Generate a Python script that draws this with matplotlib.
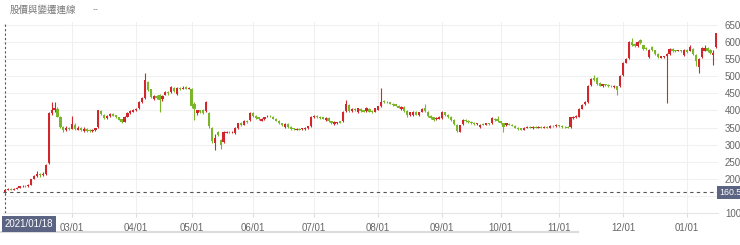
import pandas as pd
import matplotlib.pyplot as plt
from matplotlib.lines import Line2D

# trading calendar: 2021/01/18 - 2022/01/17, Taiwan market holidays removed
start_date = '2021-01-18'
end_date = '2022-01-17'
holidays = ['2021-02-08', '2021-02-09', '2021-02-10', '2021-02-11', '2021-02-12',
            '2021-02-15', '2021-02-16', '2021-03-01', '2021-04-02', '2021-04-05',
            '2021-04-30', '2021-06-14', '2021-09-20', '2021-09-21', '2021-10-11',
            '2021-12-31']

# daily OHLC
opens = [
    160.5, 168, 171, 168, 171, 173, 178, 180, 178, 182, 200, 207, 214, 210, 214,  # Jan-Feb
    246, 392, 400, 404, 382, 352, 343, 350,
    347, 358, 344, 350, 340, 346, 344, 340, 343, 352, 398, 388, 377, 383, 390, 386,  # Mar
    380, 374, 366, 382, 392, 396,
    400, 406, 425, 436, 482, 462, 434, 441, 445, 432, 446, 455, 455, 465, 448, 465,  # Apr
    464, 468, 464,
    462, 420, 392, 400, 400, 398, 392, 350, 305, 337, 313, 308, 335, 338, 336, 334,  # May
    349, 362, 358, 370, 372,
    392, 385, 380, 370, 374, 383, 385, 382, 376, 370, 362, 352, 360, 352, 348, 344,  # Jun
    347, 345, 346, 348, 354,
    380, 384, 382, 380, 372, 378, 368, 360, 362, 368, 368, 398, 416, 398, 405, 395,  # Jul
    404, 400, 398, 404, 398, 396,
    402, 412, 428, 426, 424, 420, 418, 414, 404, 410, 398, 386, 386, 395, 386, 396,  # Aug
    408, 396, 385, 380, 374, 376,
    378, 394, 388, 382, 372, 358, 338, 360, 372, 370, 366, 364, 360, 352, 360, 358,  # Sep
    362, 362, 376, 375,
    368, 362, 356, 360, 358, 354, 350, 348, 344, 350, 352, 349, 352, 350, 351, 350,  # Oct
    352, 350, 355, 353,
    356, 354, 352, 352, 352, 378, 380, 382, 405, 418, 425, 474, 495, 495, 480, 470,  # Nov
    476, 474, 472, 468, 470, 470,
    503, 540, 553, 600, 595, 588, 606, 590, 582, 555, 586, 576, 566, 554, 555, 558,  # Dec
    565, 580, 576, 575, 576, 562,
    578, 575, 580, 562, 527, 555, 575, 582, 578, 562, 585,  # Jan 2022
]
closes = [
    168, 171, 168, 171, 173, 178, 180, 178, 182, 199, 207, 213, 210, 214, 240,
    392, 402, 406, 382, 352, 343, 350, 345,
    360, 346, 350, 342, 346, 340, 341, 344, 348, 400, 390, 377, 385, 390, 385, 380,
    373, 366, 381, 392, 398, 401,
    405, 425, 435, 489, 460, 440, 441, 436, 430, 441, 455, 450, 467, 458, 465, 463,
    466, 464, 466,
    412, 405, 400, 395, 393, 425, 355, 310, 320, 328, 300, 337, 338, 336, 338, 349,
    362, 358, 370, 365, 392,
    384, 378, 374, 376, 380, 385, 383, 376, 370, 363, 356, 360, 352, 345, 345, 347,
    344, 348, 349, 353, 381,
    384, 380, 378, 376, 378, 368, 362, 366, 365, 364, 395, 418, 398, 405, 400, 406,
    398, 396, 408, 396, 395, 406,
    412, 426, 424, 424, 420, 416, 414, 408, 410, 398, 388, 394, 396, 388, 394, 405,
    398, 384, 378, 372, 378, 382,
    395, 386, 380, 372, 360, 340, 356, 372, 368, 366, 362, 360, 362, 358, 358, 362,
    360, 378, 372, 368,
    362, 352, 362, 358, 355, 350, 346, 344, 350, 352, 350, 352, 350, 351, 350, 352,
    350, 354, 353, 356,
    353, 351, 351, 350, 380, 382, 385, 405, 416, 426, 472, 492, 490, 478, 472, 476,
    474, 470, 470, 472, 460, 500,
    540, 550, 600, 592, 588, 600, 596, 580, 580, 578, 576, 565, 556, 558, 558, 565,
    580, 574, 574, 576, 574, 578,
    570, 585, 565, 545, 550, 582, 582, 575, 568, 568, 625,
]
highs = [
    170, 173, 172, 173, 175, 180, 182, 182, 184, 200, 210, 222, 218, 220, 242,
    395, 425, 424, 410, 384, 354, 353, 352,
    384, 362, 353, 352, 352, 348, 346, 346, 350, 402, 400, 390, 388, 392, 392, 388,
    382, 376, 383, 394, 400, 403,
    407, 427, 438, 509, 486, 464, 446, 444, 448, 444, 458, 458, 470, 468, 468, 468,
    470, 470, 468,
    465, 425, 402, 402, 403, 428, 394, 352, 330, 340, 316, 339, 341, 340, 340, 351,
    364, 365, 372, 372, 394,
    394, 387, 382, 378, 382, 387, 387, 384, 378, 372, 364, 362, 362, 354, 350, 349,
    349, 350, 351, 355, 383,
    387, 386, 384, 382, 380, 380, 370, 368, 367, 370, 397, 430, 420, 408, 407, 408,
    406, 402, 410, 406, 400, 408,
    414, 465, 430, 428, 426, 422, 420, 416, 412, 412, 400, 396, 398, 397, 396, 407,
    420, 398, 387, 382, 380, 384,
    397, 396, 390, 384, 374, 360, 358, 374, 374, 372, 368, 366, 364, 360, 362, 364,
    364, 382, 378, 385,
    370, 364, 364, 362, 360, 356, 352, 350, 352, 354, 354, 354, 354, 353, 353, 354,
    354, 356, 357, 360,
    358, 356, 354, 354, 382, 384, 387, 407, 418, 428, 474, 496, 503, 497, 482, 478,
    478, 476, 474, 474, 472, 503,
    542, 553, 603, 612, 598, 603, 608, 592, 584, 580, 588, 578, 568, 560, 560, 568,
    583, 582, 578, 578, 578, 580,
    580, 590, 582, 564, 552, 584, 592, 584, 580, 577, 627,
]
lows = [
    159, 166, 166, 167, 169, 172, 176, 176, 177, 181, 198, 205, 206, 208, 212,
    244, 388, 396, 380, 350, 338, 341, 342,
    345, 344, 342, 340, 338, 338, 338, 338, 341, 350, 386, 374, 375, 380, 383, 378,
    371, 364, 365, 380, 390, 394,
    398, 404, 422, 434, 456, 436, 430, 432, 395, 428, 444, 446, 452, 455, 446, 460,
    462, 462, 462,
    408, 372, 388, 392, 390, 396, 350, 305, 284, 324, 288, 306, 333, 333, 334, 332,
    347, 355, 356, 362, 370,
    381, 376, 372, 368, 372, 381, 381, 374, 368, 360, 354, 350, 350, 343, 343, 342,
    342, 343, 344, 346, 352,
    378, 378, 376, 374, 370, 366, 360, 358, 360, 362, 366, 396, 396, 396, 398, 393,
    396, 394, 396, 394, 393, 394,
    400, 410, 422, 422, 418, 414, 412, 406, 402, 396, 380, 384, 384, 386, 384, 394,
    396, 382, 376, 370, 372, 374,
    376, 384, 378, 370, 358, 338, 336, 358, 366, 364, 360, 358, 358, 350, 356, 356,
    358, 360, 370, 366,
    360, 338, 354, 356, 353, 348, 344, 342, 342, 348, 348, 347, 348, 348, 348, 348,
    348, 348, 351, 351,
    351, 349, 349, 348, 350, 376, 378, 380, 403, 415, 422, 472, 486, 475, 470, 468,
    472, 468, 468, 466, 446, 468,
    500, 538, 550, 588, 585, 586, 594, 578, 577, 553, 574, 562, 553, 552, 552, 423,
    563, 572, 572, 573, 572, 560,
    568, 573, 563, 530, 509, 553, 573, 572, 565, 532, 583,
]

y_ticks = [100, 150, 200, 250, 300, 350, 400, 450, 500, 550, 600, 650]
ref_date = '2021/01/18'
ref_price = 160.5
title = '股價與變遷連線'

days = pd.bdate_range(start_date, end_date)
days = days[~days.isin(pd.to_datetime(holidays))]
n = len(opens)
days = days[:n]
x = list(range(n))

up_color = '#d0262c'
down_color = '#7ab62a'
colors = [up_color if c >= o else down_color for o, c in zip(opens, closes)]

plt.rcParams['font.family'] = ['Liberation Sans', 'Noto Sans CJK TC']

fig = plt.figure(figsize=(7.4, 2.45), dpi=100)
ax = fig.add_axes([3 / 740, 1 - 213 / 245, 715 / 740, 191 / 245])

# wicks and bodies
ax.vlines(x, lows, highs, colors=colors, linewidth=0.8, zorder=2)
bodies = [max(abs(c - o), 1.2) for o, c in zip(opens, closes)]
bottoms = [min(o, c) for o, c in zip(opens, closes)]
ax.bar(x, bodies, bottom=bottoms, width=0.78, color=colors, linewidth=0, zorder=3)

# month ticks from March on
tick_pos, tick_lab = [], []
months = pd.Series(days.to_period('M'))
for i in range(1, n):
    if months[i] != months[i - 1] and i > 15:
        tick_pos.append(i)
        tick_lab.append(days[i].strftime('%m/01'))

ax.set_xlim(-0.69, 244.6)
ax.set_ylim(100, 658.5)
ax.set_xticks(tick_pos)
ax.set_xticklabels(tick_lab)
ax.set_yticks(y_ticks)
# the 150 label sits under the price marker box
ax.set_yticklabels(['' if v == 150 else str(v) for v in y_ticks])
ax.yaxis.tick_right()
ax.tick_params(axis='y', length=0, pad=5, labelsize=7, labelcolor='#666666')
ax.tick_params(axis='x', length=3, color='#dddddd', pad=4, labelsize=7, labelcolor='#666666')
ax.grid(True, color='#f0f0f0', linewidth=0.8, zorder=0)
for s in ['top', 'left', 'right']:
    ax.spines[s].set_visible(False)
ax.spines['bottom'].set_color('#e6e6e6')

# crosshair at first day
ax.axvline(0, color='#555555', linestyle=(0, (2, 2)), linewidth=0.8, zorder=4)
ax.axhline(ref_price, color='#555555', linestyle=(0, (3, 3)), linewidth=0.8, zorder=4)
fig.text(5 / 740, 1 - 224 / 245, ref_date, fontsize=7, color='white', va='center', ha='left',
         bbox=dict(boxstyle='square,pad=0.3', facecolor='#5b6483', edgecolor='none'))
fig.text(719 / 740, 1 - 192.5 / 245, str(ref_price), fontsize=6.3, color='white', va='center',
         ha='left', bbox=dict(boxstyle='square,pad=0.25', facecolor='#5b6483', edgecolor='none'))

fig.text(10 / 740, 1 - 10 / 245, title, fontsize=6.8, color='#777777', va='center',
         family=['Noto Sans CJK TC', 'DejaVu Sans'])
fig.text(93 / 740, 1 - 10 / 245, '--', fontsize=6.5, color='#888888', va='center')

# scroll bar under the axis
fig.add_artist(Line2D([0 / 740, 578 / 740], [1 - 232 / 245] * 2, color='#dcdcdc', linewidth=1.5))

fig.savefig('out.png', dpi=100)
